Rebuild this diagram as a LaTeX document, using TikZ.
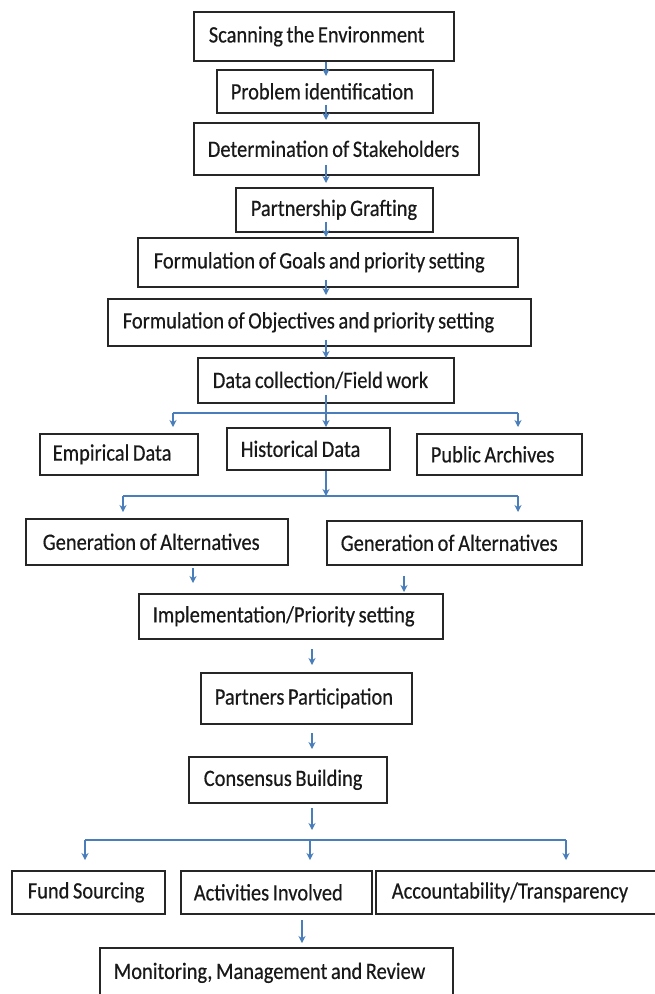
\documentclass[tikz,border=0pt]{standalone}
\usepackage{fontspec}
\setmainfont{Carlito}[FakeStretch=0.87,FakeBold=0.4]
\usetikzlibrary{arrows.meta,calc}
\definecolor{arrowblue}{HTML}{4A7EBB}
\tikzset{
  box/.style={draw=black!85, line width=1.6pt, inner ysep=0pt, align=left, text=black!90, font=\fontsize{23.5}{28}\selectfont},
  arr/.style={draw=arrowblue, line width=1.2pt, -{Stealth[length=7pt,width=7pt]}},
  ln/.style={draw=arrowblue, line width=1.2pt}
}
\newcommand\bx[7]{%
 \pgfmathsetmacro\bxtw{#4-#2-2*#6}%
 \pgfmathsetmacro\bxh{#5-#3}%
 \node[box, inner xsep=#6pt, text width=\bxtw pt, minimum height=\bxh pt, anchor=north west] (#1) at (#2,#3) {\spaceskip=3.6pt\relax\mbox{#7}};}
\begin{document}
\begin{tikzpicture}[x=1pt,y=-1pt]
\fill[white] (0,0) rectangle (655,994);
\useasboundingbox (0,0) rectangle (655,994);
\bx{scan}{193}{11}{453}{60}{15}{Scanning the Environment}
\bx{prob}{216}{69}{432}{112}{14}{Problem identification}
\bx{det}{193}{122}{478}{174}{14}{Determination of Stakeholders}
\bx{part}{235}{187}{432}{231}{15}{Partnership Grafting}
\bx{goal}{137}{237}{517}{286}{16}{Formulation of Goals and priority setting}
\bx{obj}{107}{298}{530}{345}{15}{Formulation of Objectives and priority setting}
\bx{data}{197}{357}{453}{402}{15}{Data collection/Field work}
\bx{emp}{39}{433}{197}{474}{13}{Empirical Data}
\bx{hist}{226}{427}{389}{469}{14}{Historical Data}
\bx{pub}{416}{433}{581}{474}{14}{Public Archives}
\bx{genl}{25}{518}{287}{564}{17}{Generation of Alternatives}
\bx{genr}{326}{520}{581}{564}{14}{Generation of Alternatives}
\bx{impl}{138}{593}{442}{638}{14}{Implementation/Priority setting}
\bx{partn}{200}{672}{411}{723}{14}{Partners Participation}
\bx{cons}{188}{756}{386}{802}{15}{Consensus Building}
\bx{fund}{11}{870}{164}{913}{16}{Fund Sourcing}
\bx{act}{180}{870}{371}{913}{13}{Activities Involved}
\bx{acc}{375}{870}{657}{913}{16}{Accountability/Transparency}
\bx{mon}{99}{947}{452}{997}{14}{Monitoring, Management and Review}
% spine arrows
\coordinate (sp) at (326,0);
\draw[arr] (scan.south -| sp) -- ($(prob.north -| sp)+(0,7)$);
\draw[arr] ($(prob.south -| sp)+(0,-9)$) -- ($(det.north -| sp)+(0,-2)$);
\draw[arr] ($(det.south -| sp)+(0,-11)$) -- ($(part.north -| sp)+(0,-4)$);
\draw[arr] ($(part.south -| sp)+(0,-11)$) -- (goal.north -| sp);
\draw[arr] ($(goal.south -| sp)+(0,-8)$) -- ($(obj.north -| sp)+(0,-3)$);
\draw[arr] ($(obj.south -| sp)+(0,-7)$) -- ($(data.north -| sp)+(0,1)$);
\draw[arr] ($(data.south -| sp)+(0,-9)$) -- (hist.north -| sp);
% first branch
\coordinate (j1l) at (173,413);
\coordinate (j1r) at (518,413);
\draw[ln] (j1l) -- (j1r);
\draw[arr] (j1l) -- ($(emp.north -| j1l)+(0,-6)$);
\draw[arr] (j1r) -- ($(pub.north -| j1r)+(0,-6)$);
% second branch
\coordinate (j2) at (326,496);
\coordinate (j2l) at (123,496);
\coordinate (j2r) at (518,496);
\draw[arr] (hist.south -| j2) -- (j2);
\draw[ln] (j2l) -- (j2r);
\draw[arr] (j2l) -- ($(genl.north -| j2l)+(0,-6)$);
\draw[arr] (j2r) -- ($(genr.north -| j2r)+(0,-8)$);
% floating arrows
\coordinate (f1a) at (193,568); \coordinate (f1b) at (193,583);
\coordinate (f2a) at (404,576); \coordinate (f2b) at (404,592);
\coordinate (f3a) at (312,649); \coordinate (f3b) at (312,665);
\coordinate (f4a) at (312,733); \coordinate (f4b) at (312,749);
\coordinate (f5a) at (312,808); \coordinate (f5b) at (312,830);
\coordinate (f6a) at (302,920); \coordinate (f6b) at (302,943);
\draw[arr] (f1a) -- (f1b);
\draw[arr] (f2a) -- (f2b);
\draw[arr] (f3a) -- (f3b);
\draw[arr] (f4a) -- (f4b);
\draw[arr] (f5a) -- (f5b);
\draw[arr] (f6a) -- (f6b);
% third branch
\coordinate (j3l) at (85,840);
\coordinate (j3m) at (310,840);
\coordinate (j3r) at (566,840);
\draw[ln] (j3l) -- (j3r);
\draw[arr] (j3l) -- ($(fund.north -| j3l)+(0,-10)$);
\draw[arr] (j3m) -- ($(act.north -| j3m)+(0,-10)$);
\draw[arr] (j3r) -- ($(acc.north -| j3r)+(0,-10)$);
\end{tikzpicture}
\end{document}
